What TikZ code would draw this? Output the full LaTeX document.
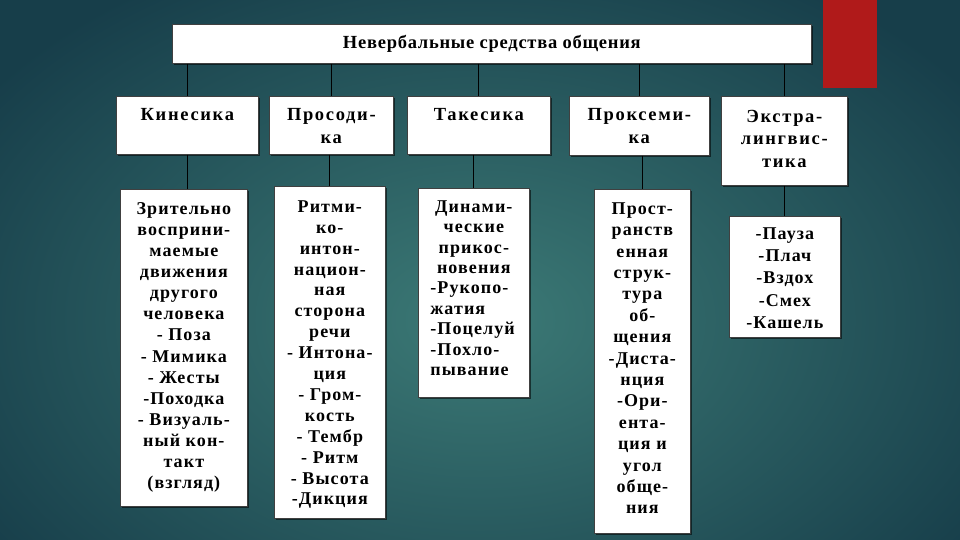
\documentclass[tikz,border=0pt]{standalone}
\usepackage{fontspec}
\setmainfont{Liberation Serif}[LetterSpace=6]
\newfontfamily\headfont{Liberation Serif}[LetterSpace=9]
\newfontfamily\titlefont{Liberation Serif}[LetterSpace=4]
\usetikzlibrary{shadows}
\definecolor{bgin}{HTML}{3C7A76}
\definecolor{bgout}{HTML}{173E4A}
\definecolor{redbar}{HTML}{B01A1A}
\tikzset{
  cell/.style={draw=black!75, line width=0.7pt, fill=white, inner sep=0pt, anchor=north west,
    drop shadow={shadow xshift=1.5pt, shadow yshift=-1.5pt, fill=black, opacity=0.55}},
  link/.style={draw=black, line width=0.9pt}
}
\newcommand\cellbox[5]{%
  \parbox[c][#2pt][t]{#1pt}{\fontsize{18}{#4}\selectfont\bfseries\lineskiplimit=-20pt\lineskip=0pt
  \centering\rule{0pt}{#3pt}#5}}
\newcommand\headbox[5]{%
  \parbox[c][#2pt][t]{#1pt}{\headfont\fontsize{18.5}{#4}\selectfont\bfseries\lineskiplimit=-20pt\lineskip=0pt
  \centering\rule{0pt}{#3pt}#5}}
\begin{document}
\begin{tikzpicture}[x=1pt,y=-1pt]
\useasboundingbox (0,0) rectangle (960,540);
\fill[bgout] (0,0) rectangle (960,540);
\shade[inner color=bgin, outer color=bgout] (480,320) ellipse (600 and 400);
\fill[redbar] (823,0) rectangle (877,88);

\node[cell] (top) at (172,24) {\parbox[c][39pt][c]{639pt}{\centering\titlefont\fontsize{18.5}{20}\selectfont\bfseries Невербальные средства общения}};

\node[cell] (k) at (116,96) {\headbox{142}{58}{24}{23}{Кинесика}};
\node[cell] (p) at (269,96) {\headbox{124}{58}{24}{23}{Просоди-\\ка}};
\node[cell] (t) at (407,96) {\headbox{143}{58}{24}{23}{Такесика}};
\node[cell] (px) at (569,96) {\headbox{140}{59}{24}{23}{Проксеми-\\ка}};
\node[cell] (e) at (721,96) {\headbox{126}{89}{26}{22.5}{Экстра-\\лингвис-\\тика}};

\node[cell] (kd) at (120,189) {\cellbox{127}{317}{25}{21.1}{Зрительно\\восприни-\\маемые\\движения\\другого\\человека\\- Поза\\- Мимика\\- Жесты\\-Походка\\- Визуаль-\\ный кон-\\такт\\(взгляд)}};
\node[cell] (pd) at (274,186) {\cellbox{111}{332}{26}{20.9}{Ритми-\\ко-\\интон-\\национ-\\ная\\сторона\\речи\\- Интона-\\ция\\- Гром-\\кость\\- Тембр\\- Ритм\\- Высота\\-Дикция}};
\node[cell] (td) at (418,188) {\parbox[c][209pt][t]{111pt}{\fontsize{18}{20.4}\selectfont\bfseries\lineskiplimit=-20pt\lineskip=0pt
  {\centering\rule{0pt}{24pt}Динами-\\ческие\\прикос-\\новения\par}
  \raggedright\leftskip=12pt -Рукопо-\\жатия\\-Поцелуй\\-Похло-\\пывание}};
\node[cell] (pxd) at (594,189) {\cellbox{96}{344}{25}{21.4}{Прост-\\ранств\\енная\\струк-\\тура\\об-\\щения\\-Диста-\\нция\\-Ори-\\ента-\\ция и\\угол\\обще-\\ния}};
\node[cell] (ed) at (729,216) {\cellbox{111}{121}{23}{22.3}{-Пауза\\-Плач\\-Вздох\\-Смех\\-Кашель}};

\foreach \n in {k,p,t,px,e}{
  \draw[link] (top.south -| \n.north) -- (\n.north);
}
\draw[link] (k.south) -- (k.south |- kd.north);
\draw[link] (pd.north |- p.south) -- (pd.north);
\draw[link] (td.north |- t.south) -- (td.north);
\draw[link] (pxd.north |- px.south) -- (pxd.north);
\draw[link] (ed.north |- e.south) -- (ed.north);
\end{tikzpicture}
\end{document}
